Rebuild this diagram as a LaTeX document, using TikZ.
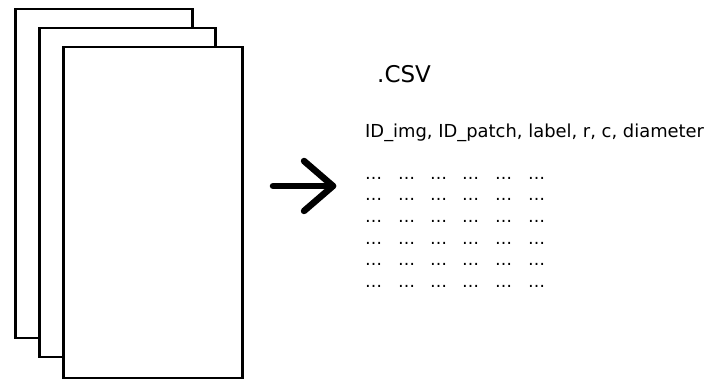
\documentclass[tikz,border=0pt]{standalone}
\usepackage{fontspec}
\setmainfont{DejaVu Sans}
\begin{document}
\begin{tikzpicture}[x=1pt,y=-1pt,
  sheet/.style={draw=black, fill=white, line width=2.5pt, inner sep=0pt, anchor=north west},
  cell/.style={anchor=base west, inner sep=0pt, font=\fontsize{17}{17}\selectfont},
  heading/.style={anchor=base west, inner sep=0pt},
  bigarrow/.style={line width=6.5pt, line cap=round, line join=round}]
\useasboundingbox (0,0) rectangle (707,379);
% stack of pages, back to front
\node[sheet, minimum width=177pt, minimum height=329pt] (page1) at (14,8) {};
\node[sheet, minimum width=176pt, minimum height=329pt] (page2) at (38,27) {};
\node[sheet, minimum width=179pt, minimum height=331pt] (page3) at (62,46) {};
% arrow towards the table
\coordinate (tail) at (273,186);
\coordinate (tip) at (333,186);
\draw[bigarrow] (tail) -- (tip);
\draw[bigarrow] (304,161) -- (tip) -- (304,211);
% file type and column header
\node[heading, font=\fontsize{23}{23}\selectfont] (ext) at (377,83) {.CSV};
\node[heading, font=\fontsize{17.9}{18}\selectfont] (cols) at (365,138) {ID\_img, ID\_patch, label, r, c, diameter};
% placeholder rows
\foreach \r/\y in {1/180,2/201,3/223,4/245,5/266,6/288}{
  \foreach \c/\x in {1/365,2/398,3/430,4/462,5/495,6/528}{
    \node[cell] (cell-\r-\c) at (\x,\y) {…};
  }
}
\end{tikzpicture}
\end{document}
